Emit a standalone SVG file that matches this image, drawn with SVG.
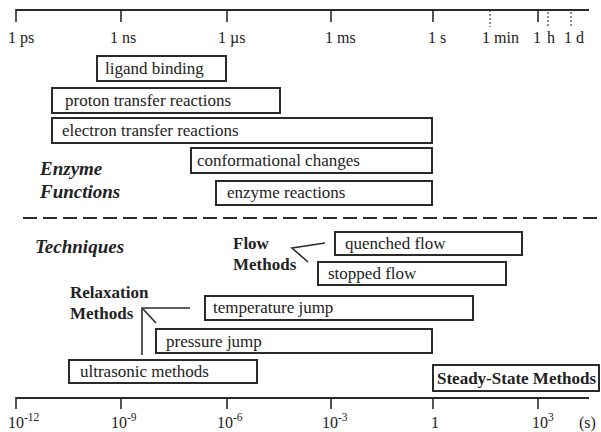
<svg xmlns="http://www.w3.org/2000/svg" width="601" height="432" viewBox="0 0 601 432">
<style>
.bg{fill:#fff}
.box{fill:#fff;stroke:#2a2a2a;stroke-width:2}
.t{font-family:"Liberation Serif","Times New Roman",serif;font-size:17px;fill:#222}
.ax{font-family:"Liberation Serif","Times New Roman",serif;font-size:16px;fill:#222}
.sup{font-size:11.5px}
.b{font-weight:bold}
.bi{font-weight:bold;font-style:italic;font-size:19px}
.axis{stroke:#2a2a2a;stroke-width:2;fill:none}
.tick{stroke:#2a2a2a;stroke-width:1.6;fill:none}
.dot{stroke:#444;stroke-width:1.2;stroke-dasharray:2 2;fill:none}
.br{stroke:#2a2a2a;stroke-width:1.6;fill:none}
</style>
<rect class="bg" x="0" y="0" width="601" height="432"/>

<g id="top-axis">
<path class="axis" d="M16,10H589"/>
<path class="tick" d="M16,9V22M121,10V22M227,10V22M331,10V22M433,10V22M538,10V22"/>
<path class="dot" d="M490,10V27M548,12V27M571,12V27"/>
<text class="ax" x="8" y="43">1 ps</text>
<text class="ax" x="110" y="43">1 ns</text>
<text class="ax" x="218" y="43">1 µs</text>
<text class="ax" x="325" y="43">1 ms</text>
<text class="ax" x="428" y="43">1 s</text>
<text class="ax" x="482" y="43">1 min</text>
<text class="ax" x="533" y="43">1 <tspan dx="2">h</tspan></text>
<text class="ax" x="564" y="43">1 d</text>
</g>

<g id="ligand-binding"><rect class="box" x="97" y="56" width="129" height="25"/><text class="t" x="105" y="74">ligand binding</text></g>
<g id="proton-transfer"><rect class="box" x="52" y="88" width="228" height="25"/><text class="t" x="65" y="106">proton transfer reactions</text></g>
<g id="electron-transfer"><rect class="box" x="52" y="118" width="380" height="25"/><text class="t" x="62" y="136">electron transfer reactions</text></g>
<g id="conformational"><rect class="box" x="191" y="148" width="241" height="25"/><text class="t" x="197" y="166">conformational changes</text></g>
<g id="enzyme-reactions"><rect class="box" x="216" y="181" width="216" height="24"/><text class="t" x="227" y="198">enzyme reactions</text></g>

<g id="enzyme-functions-label">
<text class="t bi" x="40" y="175">Enzyme</text>
<text class="t bi" x="40" y="198">Functions</text>
</g>

<g id="divider"><path d="M23,218H600" stroke="#2a2a2a" stroke-width="2" stroke-dasharray="14 6" fill="none"/></g>

<g id="techniques-label"><text class="t bi" x="35" y="253">Techniques</text></g>

<g id="flow-methods-label">
<text class="t b" x="233" y="249">Flow</text>
<text class="t b" x="233" y="270">Methods</text>
</g>
<g id="relaxation-methods-label">
<text class="t b" x="70" y="298">Relaxation</text>
<text class="t b" x="70" y="319">Methods</text>
</g>

<g id="connectors">
<polyline class="br" points="325,243 292,248 308,262"/>
<polyline class="br" points="190,308 142,308 142,355"/>
<line class="br" x1="143" y1="309" x2="156" y2="323"/>
</g>

<g id="quenched-flow"><rect class="box" x="335" y="232" width="187" height="23"/><text class="t" x="345" y="249">quenched flow</text></g>
<g id="stopped-flow"><rect class="box" x="318" y="262" width="188" height="23"/><text class="t" x="328" y="279">stopped flow</text></g>
<g id="temperature-jump"><rect class="box" x="205" y="296" width="268" height="24"/><text class="t" x="213" y="313">temperature jump</text></g>
<g id="pressure-jump"><rect class="box" x="156" y="329" width="276" height="24"/><text class="t" x="166" y="347">pressure jump</text></g>
<g id="ultrasonic-methods"><rect class="box" x="69" y="360" width="188" height="23"/><text class="t" x="80" y="377">ultrasonic methods</text></g>
<g id="steady-state-methods"><rect class="box" x="433" y="365" width="166" height="26"/><text class="t b" x="437" y="384">Steady-State Methods</text></g>

<g id="bottom-axis">
<path class="axis" d="M16,398H589"/>
<path class="tick" d="M16,397V409M121,398V409M227,398V409M331,398V409M433,398V409M538,398V409"/>
<text class="ax" x="8" y="428">10<tspan class="sup" dy="-7">-12</tspan></text>
<text class="ax" x="111" y="428">10<tspan class="sup" dy="-7">-9</tspan></text>
<text class="ax" x="217" y="428">10<tspan class="sup" dy="-7">-6</tspan></text>
<text class="ax" x="322" y="428">10<tspan class="sup" dy="-7">-3</tspan></text>
<text class="ax" x="431" y="428">1</text>
<text class="ax" x="532" y="428">10<tspan class="sup" dy="-7">3</tspan></text>
<text class="ax" x="579" y="428">(s)</text>
</g>
</svg>
